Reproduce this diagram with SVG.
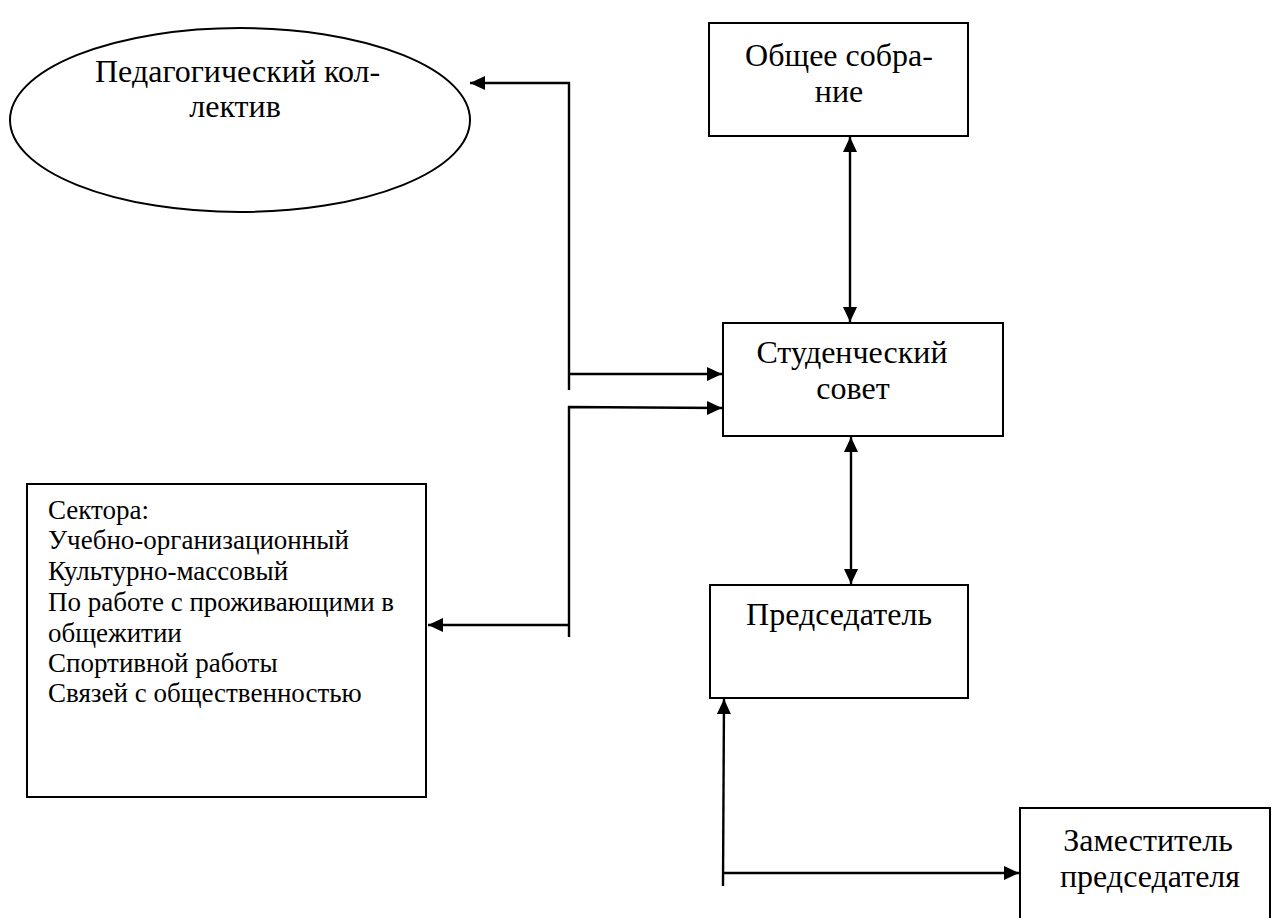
<svg xmlns="http://www.w3.org/2000/svg" width="1272" height="918" viewBox="0 0 1272 918">
<style>
.box{fill:#fff;stroke:#000;stroke-width:2}
.t{font-family:"Liberation Serif","Times New Roman",serif;font-size:32px;fill:#000}
.c{text-anchor:middle}
.s{font-family:"Liberation Serif","Times New Roman",serif;font-size:27px;fill:#000}
.ln{fill:none;stroke:#000;stroke-width:2.4}
</style>
<defs>
<marker id="ah" markerUnits="userSpaceOnUse" markerWidth="16" markerHeight="16" viewBox="0 0 16 16" refX="15" refY="8" orient="auto-start-reverse">
<path d="M0,1 L15,8 L0,15 z" fill="#000"/>
</marker>
</defs>
<rect width="1272" height="918" fill="#fff"/>
<g id="ped">
<ellipse class="box" cx="240" cy="120" rx="230" ry="92"/>
<text class="t" x="95" y="82">Педагогический кол-</text>
<text class="t c" x="235" y="117">лектив</text>
</g>
<g id="obshchee">
<rect class="box" x="709" y="23" width="259" height="113"/>
<text class="t c" x="839" y="66">Общее собра-</text>
<text class="t c" x="839" y="102">ние</text>
</g>
<g id="sovet">
<rect class="box" x="723" y="323" width="280" height="113"/>
<text class="t c" x="852" y="363">Студенческий</text>
<text class="t c" x="853" y="399">совет</text>
</g>
<g id="sektora">
<rect class="box" x="27" y="484" width="399" height="313"/>
<text class="s" x="48" y="519">Сектора:</text>
<text class="s" x="48" y="549">Учебно-организационный</text>
<text class="s" x="48" y="580">Культурно-массовый</text>
<text class="s" x="48" y="611">По работе с проживающими в</text>
<text class="s" x="48" y="642">общежитии</text>
<text class="s" x="48" y="672">Спортивной работы</text>
<text class="s" x="48" y="702">Связей с общественностью</text>
</g>
<g id="predsedatel">
<rect class="box" x="710" y="585" width="258" height="113"/>
<text class="t c" x="839" y="625">Председатель</text>
</g>
<g id="zam">
<rect class="box" x="1020" y="808" width="250" height="120"/>
<text class="t c" x="1148" y="851">Заместитель</text>
<text class="t c" x="1150" y="887">председателя</text>
</g>
<g id="connectors">
<path class="ln" d="M569,390 L569,83 L470,83" marker-end="url(#ah)"/>
<path class="ln" d="M569,374 L722,374" marker-end="url(#ah)"/>
<path class="ln" d="M569,637 L569,407 L722,408" marker-end="url(#ah)"/>
<path class="ln" d="M569,625 L428,625" marker-end="url(#ah)"/>
<path class="ln" d="M850,137 L850,322" marker-start="url(#ah)" marker-end="url(#ah)"/>
<path class="ln" d="M851,437 L851,584" marker-start="url(#ah)" marker-end="url(#ah)"/>
<path class="ln" d="M723,886 L724,699" marker-end="url(#ah)"/>
<path class="ln" d="M724,873 L1019,873" marker-end="url(#ah)"/>
</g>
</svg>
